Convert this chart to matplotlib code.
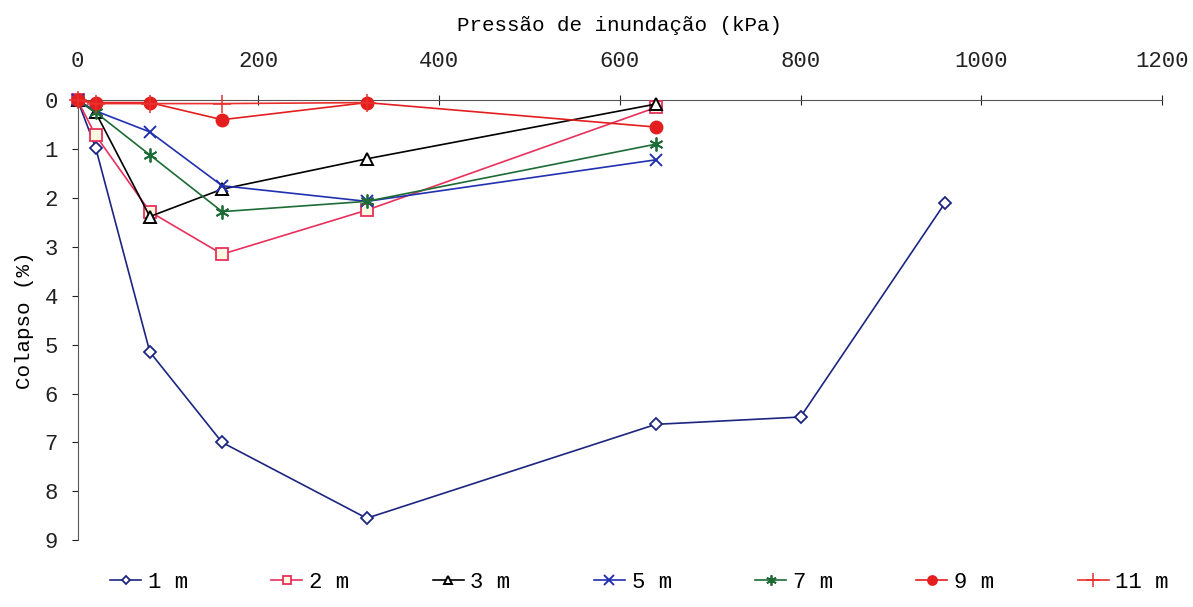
import matplotlib
matplotlib.use("Agg")
import matplotlib.pyplot as plt

# pressao de inundacao (kPa)
pressao = [0, 20, 80, 160, 320, 640, 800, 960]

col_1m = [0, 0.97, 5.15, 7.0, 8.55, 6.63, 6.48, 2.1]
col_2m = [0, 0.72, 2.28, 3.15, 2.25, 0.15]
col_3m = [0, 0.25, 2.38, 1.82, 1.2, 0.08]
col_5m = [0, 0.22, 0.65, 1.75, 2.07, 1.22]
col_7m = [0, 0.25, 1.12, 2.28, 2.07, 0.9]
col_9m = [0, 0.05, 0.05, 0.4, 0.05, 0.55]
col_11m = [0, 0.07, 0.07, 0.07, 0.05]

labels = ["1 m", "2 m", "3 m", "5 m", "7 m", "9 m", "11 m"]

plt.rcParams['font.family'] = ['Liberation Mono', 'DejaVu Sans Mono']

fig = plt.figure(figsize=(11.93, 6.07), dpi=100)
ax = fig.add_axes([0.065, 0.11, 0.909, 0.725])

series = [col_1m, col_2m, col_3m, col_5m, col_7m, col_9m, col_11m]
styles = [
    dict(color='#1c2580', marker='D', mfc='white', ms=6, mew=1.3),
    dict(color='#e8305c', marker='s', mfc='#fff8e0', ms=8, mew=1.3),
    dict(color='black', marker='^', mfc='white', ms=8, mew=1.4),
    dict(color='#2030b0', marker='x', ms=9, mew=1.4),
    dict(color='#1d6b35', marker=(6, 2, 0), ms=10, mew=1.3),
    dict(color='#e41e1e', marker='o', mfc='#e41e1e', ms=9),
    dict(color='#e8302c', marker='+', ms=13, mew=1.1),
]
# draw 11 m first so others are on top
order = [6, 0, 1, 2, 3, 4, 5]
handles = [None] * 7
for i in order:
    y = series[i]
    st = styles[i]
    h, = ax.plot(pressao[:len(y)], y, lw=1.2, label=labels[i], clip_on=False,
                 zorder=3 + i, **st)
    handles[i] = h

ax.set_xlim(0, 1200)
ax.set_ylim(9, 0)
ax.set_xticks(range(0, 1201, 200))
ax.set_yticks(range(0, 10))
ax.xaxis.set_ticks_position('top')
ax.xaxis.set_label_position('top')
ax.spines['right'].set_visible(False)
ax.spines['bottom'].set_visible(False)
ax.spines['top'].set_color('#555555')
ax.spines['left'].set_color('#555555')
ax.tick_params(axis='x', direction='inout', length=7, pad=17, labelsize=16, colors='#222222')
ax.tick_params(axis='y', direction='out', length=4, pad=10, labelsize=16, colors='#222222')
ax.set_xlabel("Pressão de inundação (kPa)", fontsize=15, labelpad=14)
ax.set_ylabel("Colapso (%)", fontsize=15, labelpad=8)

fig.legend(handles=handles, labels=labels, loc='lower center',
           bbox_to_anchor=(0.536, -0.01), ncol=7, frameon=False, fontsize=16,
           handlelength=1.4, handletextpad=0.3, columnspacing=3.75, markerscale=0.75)

fig.savefig("out.png", dpi=100)
